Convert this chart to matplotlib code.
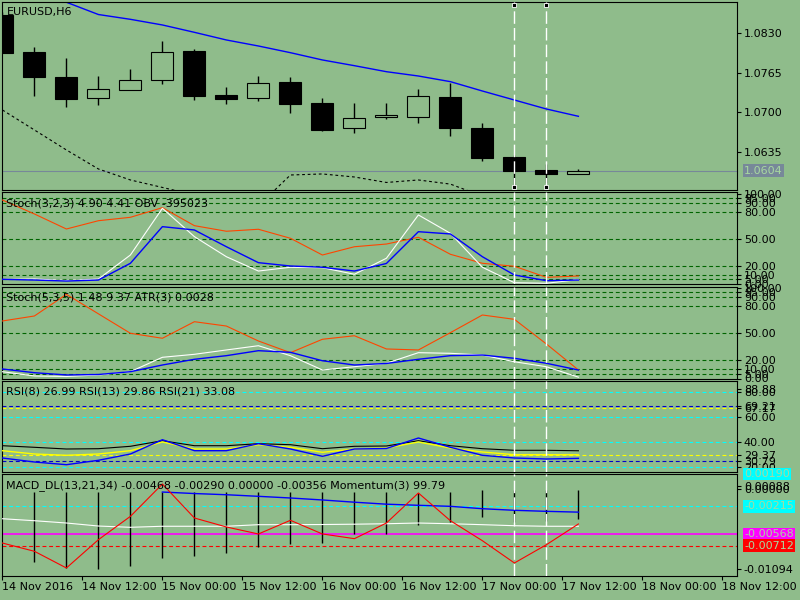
import numpy as np
import matplotlib.pyplot as plt
from matplotlib.transforms import blended_transform_factory as blend

BG = '#8FBC8B'
BOXTXT = '#A8D8A0'
DASH = (0, (3.5, 2.5))

# ─── Data (bar index 0..18, H6 bars) ───────────────────────────────
bars = np.arange(19)
opens  = [1.08601, 1.07987, 1.07581, 1.07230, 1.07362, 1.07527, 1.08009, 1.07285, 1.07240, 1.07499,
          1.07153, 1.06737, 1.06918, 1.06928, 1.07252, 1.06742, 1.06264, 1.06050, 1.05980]
closes = [1.07981, 1.07586, 1.07224, 1.07379, 1.07527, 1.07987, 1.07273, 1.07224, 1.07477, 1.07142,
          1.06714, 1.06901, 1.06951, 1.07263, 1.06747, 1.06253, 1.06039, 1.05990, 1.06040]
highs  = [1.08650, 1.08075, 1.07894, 1.07597, 1.07713, 1.08173, 1.08037, 1.07416, 1.07597, 1.07581,
          1.07235, 1.07148, 1.07148, 1.07383, 1.07477, 1.06824, 1.06297, 1.06149, 1.06072]
lows   = [1.07981, 1.07268, 1.07092, 1.07125, 1.07362, 1.07461, 1.07202, 1.07142, 1.07186, 1.06993,
          1.06692, 1.06664, 1.06895, 1.06829, 1.06615, 1.06204, 1.05766, 1.05842, 1.05980]
ma_blue = [1.09062, 1.08947, 1.08811, 1.08609, 1.08530, 1.08437, 1.08316, 1.08190, 1.08091, 1.07981,
           1.07861, 1.07767, 1.07668, 1.07597, 1.07504, 1.07350, 1.07202, 1.07054, 1.06934]
band_low = [1.07038, 1.06709, 1.06380, 1.06067, 1.05886, 1.05763, 1.05640, 1.05557, 1.05461, 1.05968,
            1.05985, 1.05935, 1.05845, 1.05886, 1.05818, 1.05620, 1.05560, 1.05530, 1.05500]
last_price = 1.0604

s1_orange = [93.3, 77.8, 61.1, 70.3, 74.1, 84.8, 64.8, 58.6, 60.8, 50.8, 32.2, 41.4, 44.4, 51.9, 33.0, 23.0, 19.7, 7.4, 8.9]
s1_white  = [5.0, 5.6, 3.9, 5.5, 32.2, 84.1, 52.6, 30.3, 14.4, 18.6, 18.1, 10.8, 28.6, 76.7, 56.3, 18.6, 1.4, 0.8, 4.9]
s1_blue   = [5.2, 4.4, 3.3, 4.4, 23.0, 63.7, 60.0, 41.4, 23.7, 20.0, 18.6, 14.4, 22.8, 58.1, 55.6, 30.3, 10.0, 3.7, 4.41]

s2_orange = [63.5, 69.0, 92.9, 71.4, 49.9, 44.4, 62.7, 57.9, 41.4, 28.5, 43.3, 47.2, 32.6, 31.5, 50.6, 70.1, 65.3, 38.1, 9.4]
s2_white  = [7.5, 2.8, 2.2, 3.9, 7.5, 23.4, 26.7, 31.5, 36.2, 25.2, 9.4, 13.0, 16.8, 28.5, 27.8, 25.9, 18.5, 13.0, 1.48]
s2_blue   = [10.5, 6.4, 3.9, 4.4, 7.5, 14.9, 21.2, 25.2, 30.7, 28.9, 19.6, 14.9, 16.6, 21.2, 25.2, 25.9, 22.3, 16.8, 9.37]
stoch_levels = [5, 10, 20, 50, 80, 90, 95]
stoch_ticks = [0, 5, 10, 20, 50, 80, 90, 95, 100]
stoch_labels = ['0.00', '5.00', '10.00', '20.00', '50.00', '80.00', '90.00', '95.00', '100.00']

rsi21 = [37.12, 35.84, 34.48, 34.72, 36.64, 41.12, 37.12, 37.12, 38.72, 37.92, 34.72, 36.64, 36.88, 41.12, 37.12, 34.72, 33.44, 33.44, 33.08]
rsi13 = [33.12, 30.48, 29.44, 30.48, 33.12, 40.08, 34.48, 34.48, 37.92, 35.84, 31.84, 34.48, 35.28, 40.08, 35.28, 32.08, 29.92, 29.92, 29.86]
rsi8  = [27.28, 24.08, 21.92, 25.44, 30.48, 41.92, 33.12, 33.12, 38.72, 34.48, 28.64, 34.48, 34.88, 43.28, 35.84, 29.44, 27.28, 26.48, 26.99]
rsi_cyan = [20, 40, 60, 80]
rsi_yellow = [29.37, 67.17]
rsi_blue = [24.9, 69.21]
rsi_ticks = [20, 24.9, 29.37, 40, 60, 67.17, 69.21, 80, 82.5]
rsi_labels = ['20.00', '30.79', '29.37', '40.00', '60.00', '67.17', '69.21', '80.00', '88.88']

macd_main = [-0.00373, -0.00398, -0.00427, -0.00465, -0.00481, -0.00468, -0.00468, -0.00468, -0.00448, -0.00448,
             -0.00446, -0.00442, -0.00436, -0.00427, -0.00436, -0.00448, -0.00461, -0.00468, -0.00468]
macd_signal = [np.nan] * 5 + [-0.00037, -0.00056, -0.00071, -0.00091, -0.00112, -0.00137, -0.00165, -0.00190,
                              -0.00204, -0.00217, -0.00247, -0.00267, -0.00280, -0.00290]
hist_top = [np.nan, -0.00040, -0.00040, -0.00040, -0.00040, -0.00040, -0.00040, -0.00040, -0.00040, -0.00040,
            -0.00040, -0.00040, -0.00040, -0.00049, -0.00040, -0.00015, -0.00015, -0.00008, -0.00015]
hist_bot = [np.nan, -0.00922, -0.00993, -0.01006, -0.00964, -0.00867, -0.00839, -0.00805, -0.00733, -0.00687,
            -0.00679, -0.00565, -0.00565, -0.00456, -0.00414, -0.00355, -0.00414, -0.00405, -0.00373]
momentum = [-0.00679, -0.00783, -0.00993, -0.00637, -0.00343, 0.00064, -0.00364, -0.00477, -0.00565, -0.00393,
            -0.00565, -0.00624, -0.00427, -0.00049, -0.00398, -0.00650, -0.00930, -0.00700, -0.00439]

date_ticks = np.arange(10) * 2.5
date_labels = ['14 Nov 2016', '14 Nov 12:00', '15 Nov 00:00', '15 Nov 12:00', '16 Nov 00:00',
               '16 Nov 12:00', '17 Nov 00:00', '17 Nov 12:00', '18 Nov 00:00', '18 Nov 12:00']
vlines_at = [16, 17]
# ────────────────────────────────────────────────────────────────────

fig = plt.figure(figsize=(8, 6), dpi=100, facecolor=BG)


def panel(top, bottom):
    ax = fig.add_axes([2 / 800, 1 - bottom / 600, 735 / 800, (bottom - top) / 600])
    ax.set_facecolor(BG)
    ax.set_xlim(-0.0125, 22.956)
    ax.set_xticks([])
    ax.yaxis.tick_right()
    ax.tick_params(axis='y', length=2.9, width=0.8, pad=2, labelsize=8)
    for s in ax.spines.values():
        s.set_linewidth(0.8)
    for v in vlines_at:
        ax.axvline(v, color='white', lw=1, ls=(0, (9, 3)), zorder=4)
    return ax


def box_label(ax, v, s, fc):
    ax.text(1 + 7 / 735, v, s, transform=blend(ax.transAxes, ax.transData),
            ha='left', va='center', fontsize=8, color=BOXTXT, clip_on=False, zorder=6,
            bbox=dict(boxstyle='square,pad=0.12', fc=fc, ec='none'))


def title(x, y, s):
    fig.text(x / 800, 1 - y / 600, s, ha='left', va='center', fontsize=8, color='black', zorder=10)


# Main price panel
ax0 = panel(2, 190)
ax0.set_ylim(1.05721, 1.08815)
o, c = np.array(opens), np.array(closes)
faces = ['black' if cc < oo else BG for oo, cc in zip(o, c)]
ax0.vlines(bars, lows, highs, color='black', lw=1, zorder=2)
ax0.bar(bars, np.abs(c - o), bottom=np.minimum(o, c), width=0.69, color=faces,
        edgecolor='black', linewidth=0.8, zorder=3)
ax0.plot(bars, ma_blue, color='#0000FF', lw=1, zorder=2)
ax0.plot(bars, band_low, color='black', lw=0.8, ls=(0, (2.5, 2.5)), zorder=2)
ax0.axhline(last_price, color='#778899', lw=0.8, zorder=1)
ax0.set_yticks([1.0635, 1.0700, 1.0765, 1.0830])
ax0.set_yticklabels(['1.0635', '1.0700', '1.0765', '1.0830'])
box_label(ax0, last_price, '1.0604', '#778899')
tr = blend(ax0.transData, ax0.transAxes)
for v in vlines_at:
    ax0.plot([v, v], [0.984, 0.016], ls='none', marker='s', ms=3.5, mfc='black', mec='white',
             mew=0.6, transform=tr, zorder=7, clip_on=False)
title(7, 11.5, 'EURUSD,H6')

# Stochastic (3,2,3) + OBV
ax1 = panel(192, 284)
ax1.set_ylim(0, 102.2)
for lv in stoch_levels:
    ax1.axhline(lv, color='#006400', lw=0.8, ls=DASH, zorder=1)
ax1.plot(bars, s1_orange, color='#FF4500', lw=0.8, zorder=3)
ax1.plot(bars, s1_white, color='white', lw=0.8, zorder=3)
ax1.plot(bars, s1_blue, color='#0000FF', lw=1, zorder=3)
ax1.set_yticks(stoch_ticks)
ax1.set_yticklabels(stoch_labels)
title(6, 203, 'Stoch(3,2,3) 4.90 4.41 OBV -395023')

# Stochastic (5,3,5) + ATR
ax2 = panel(287, 378.5)
ax2.set_ylim(0, 101)
for lv in stoch_levels:
    ax2.axhline(lv, color='#006400', lw=0.8, ls=DASH, zorder=1)
ax2.plot(bars, s2_orange, color='#FF4500', lw=0.8, zorder=3)
ax2.plot(bars, s2_white, color='white', lw=0.8, zorder=3)
ax2.plot(bars, s2_blue, color='#0000FF', lw=1, zorder=3)
ax2.set_yticks(stoch_ticks)
ax2.set_yticklabels(stoch_labels)
title(6, 297.5, 'Stoch(5,3,5) 1.48 9.37 ATR(3) 0.0028')

# RSI panel
ax3 = panel(381, 472)
ax3.set_ylim(16.08, 88.88)
for lv in rsi_cyan:
    ax3.axhline(lv, color='#00FFFF', lw=0.8, ls=DASH, zorder=1)
for lv in rsi_yellow:
    ax3.axhline(lv, color='#FFFF00', lw=0.8, ls=DASH, zorder=1)
for lv in rsi_blue:
    ax3.axhline(lv, color='#0000CD', lw=0.8, ls=DASH, zorder=1)
ax3.plot(bars, rsi21, color='black', lw=0.8, zorder=3)
ax3.plot(bars, rsi13, color='#FFFF00', lw=1, zorder=3)
ax3.plot(bars, rsi8, color='#0000FF', lw=1, zorder=3)
ax3.set_yticks(rsi_ticks)
ax3.set_yticklabels(rsi_labels)
title(6, 392, 'RSI(8) 26.99 RSI(13) 29.86 RSI(21) 33.08')

# MACD + Momentum panel
ax4 = panel(474, 576)
ax4.set_ylim(-0.01094, 0.00190)
ax4.axhline(-0.00215, color='#00FFFF', lw=0.8, ls=DASH, zorder=1)
ax4.axhline(-0.00568, color='#FF00FF', lw=1.2, zorder=1)
ax4.axhline(-0.00712, color='#FF0000', lw=0.8, ls=DASH, zorder=1)
ax4.vlines(bars, hist_bot, hist_top, color='black', lw=1, zorder=2)
ax4.plot(bars, macd_main, color='white', lw=0.8, zorder=3)
ax4.plot(bars, macd_signal, color='#0000FF', lw=1, zorder=3)
ax4.plot(bars, momentum, color='#FF0000', lw=0.8, zorder=3)
ax4.set_yticks([-0.01006, 0.0, 0.00035])
ax4.set_yticklabels(['-0.01094', '0.00000', '0.00088'])
box_label(ax4, 0.00190, '0.00190', '#00FFFF')
box_label(ax4, -0.00215, '-0.00215', '#00FFFF')
box_label(ax4, -0.00568, '-0.00568', '#FF00FF')
box_label(ax4, -0.00712, '-0.00712', '#FF0000')
ax4.set_xticks(date_ticks)
ax4.set_xticklabels(date_labels, ha='left')
ax4.tick_params(axis='x', length=3, width=0.8, pad=1.5, labelsize=8)
title(6, 485.7, 'MACD_DL(13,21,34) -0.00468 -0.00290 0.00000 -0.00356 Momentum(3) 99.79')

fig.savefig('out.png', dpi=100, facecolor=BG)
